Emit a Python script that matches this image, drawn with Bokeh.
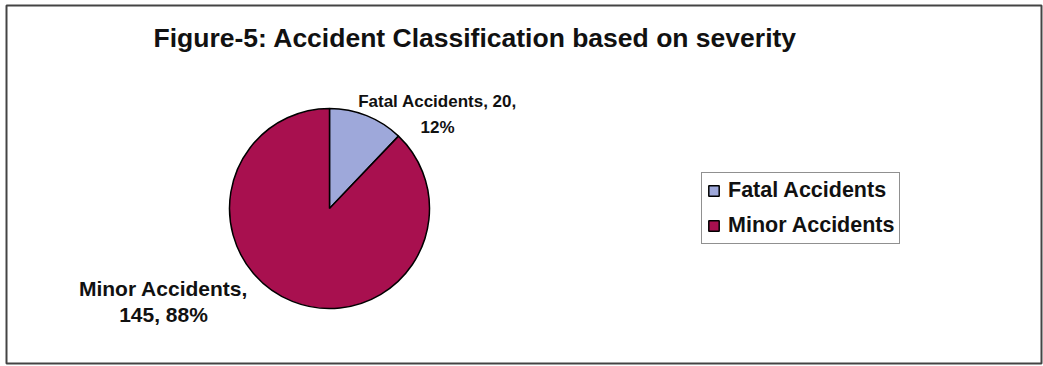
import math
from bokeh.plotting import figure
from bokeh.models import Range1d, BoxAnnotation, Legend, LegendItem, ColumnDataSource
from bokeh.core.properties import value
from bokeh.embed import file_html
from bokeh.resources import INLINE

# ---- data ----
categories = ["Fatal Accidents", "Minor Accidents"]
counts = [20, 145]
colors = ["#9ea8da", "#a8104f"]
title_text = "Figure-5: Accident Classification based on severity"

# ---- layout ----
W, H = 1043, 366
FONT = "Liberation Sans"

def Y(ypx):
    return H - ypx

cx, cy, R = 329, Y(208), 100

total = sum(counts)
fracs = [c / total for c in counts]
starts, ends = [], []
acc = 0.0
for f in fracs:
    starts.append(math.pi / 2 - 2 * math.pi * acc)
    acc += f
    ends.append(math.pi / 2 - 2 * math.pi * acc)

src = ColumnDataSource(dict(cat=categories, start=starts, end=ends, color=colors,
                            x=[cx] * len(categories), y=[cy] * len(categories)))

p = figure(width=W, height=H, output_backend="svg", toolbar_location=None,
           x_range=Range1d(0, W), y_range=Range1d(0, H), min_border=0,
           background_fill_color="white", border_fill_color="white")
p.axis.visible = False
p.grid.visible = False
p.outline_line_color = None

p.add_layout(BoxAnnotation(left=6, right=1041, bottom=Y(363), top=Y(5),
                           fill_alpha=0, line_color="#444444", line_alpha=1,
                           line_width=2))

r = p.wedge(x="x", y="y", radius=R, start_angle="start", end_angle="end",
            direction="clock", fill_color="color", line_color="black",
            line_width=1.5, source=src)

# title
p.text(x=[153], y=[Y(37)], text=[title_text], text_font=value(FONT),
       text_font_style="bold", text_font_size="26.5px", text_color="#111111",
       text_align="left", text_baseline="alphabetic")

# data labels
pcts = [f"{round(f * 100)}%" for f in fracs]
lab_fatal = [f"{categories[0]}, {counts[0]},", pcts[0]]
lab_minor = [f"{categories[1]},", f"{counts[1]}, {pcts[1]}"]
p.text(x=[437, 437], y=[Y(101), Y(127)], text=lab_fatal, text_font=value(FONT),
       text_font_style="bold", text_font_size="17px", text_color="#111111",
       text_align="center", text_baseline="alphabetic")
p.text(x=[163, 163], y=[Y(288), Y(314)], text=lab_minor, text_font=value(FONT),
       text_font_style="bold", text_font_size="21px", text_color="#111111",
       text_align="center", text_baseline="alphabetic")

legend = Legend(items=[LegendItem(label=c, renderers=[r], index=i) for i, c in enumerate(categories)],
                location=(701, Y(244)), orientation="vertical",
                label_text_font=FONT, label_text_font_style="bold",
                label_text_font_size="21.5px", label_text_color="#111111",
                glyph_width=13, glyph_height=13, label_standoff=8,
                padding=5, spacing=10, margin=0,
                border_line_color="#222222", border_line_width=1.5,
                background_fill_color="white", background_fill_alpha=1)
p.add_layout(legend, "center")

open("out.html", "w").write(file_html(p, INLINE))
